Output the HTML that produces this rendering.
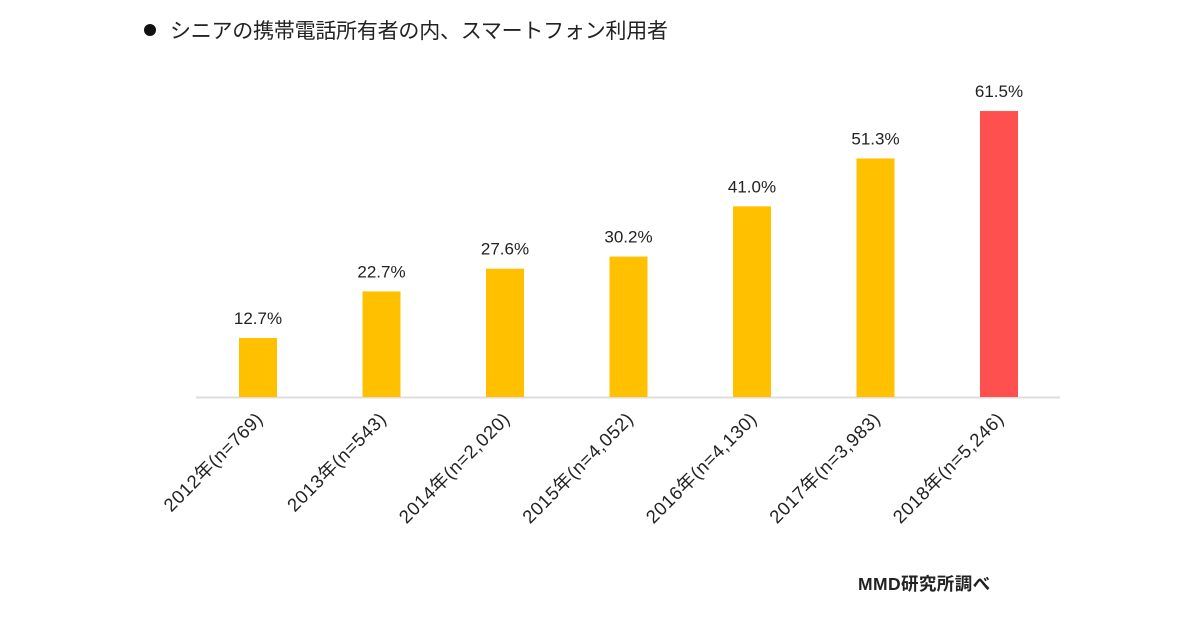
<!DOCTYPE html>
<html><head><meta charset="utf-8"><style>
body{margin:0;background:#fff;}
svg{display:block;font-family:"Liberation Sans","Noto Sans CJK JP",sans-serif;}
</style></head><body>
<svg width="1200" height="630">
<circle cx="150" cy="30" r="6" fill="#111"/>
<text x="170" y="38" font-size="21" fill="#222" textLength="498">シニアの携帯電話所有者の内、スマートフォン利用者</text>
<line x1="196" y1="397.5" x2="1060" y2="397.5" stroke="#ddd" stroke-width="2"/>
<g id="bars"></g>
<text x="858" y="590" font-size="17.5" font-weight="bold" fill="#222" letter-spacing="0.4">MMD研究所調べ</text>
</svg>
<script>
const categories=["2012年(n=769)","2013年(n=543)","2014年(n=2,020)","2015年(n=4,052)","2016年(n=4,130)","2017年(n=3,983)","2018年(n=5,246)"];
const values=[12.7,22.7,27.6,30.2,41.0,51.3,61.5];
const valueLabels=["12.7%","22.7%","27.6%","30.2%","41.0%","51.3%","61.5%"];
const NS="http://www.w3.org/2000/svg";
const g=document.getElementById('bars');
const x=i=>258+i*123.5;
const y=v=>397-v*4.65;
function mk(t,a){const e=document.createElementNS(NS,t);for(const k in a)e.setAttribute(k,a[k]);g.appendChild(e);return e;}
values.forEach((v,i)=>{
  const r=mk('rect',{x:x(i)-19,y:y(v),width:38,height:397-y(v),fill:i===values.length-1?'#ff5050':'#ffc000'});
  
  
  const t=mk('text',{x:x(i),y:y(v)-14,'font-size':17,'text-anchor':'middle',fill:'#222'});
  t.textContent=valueLabels[i];
  
  
  const c=mk('text',{x:x(i)+6,y:420,'font-size':18.5,'text-anchor':'end',fill:'#222','letter-spacing':'0.6',transform:`rotate(-45 ${x(i)+6} 420)`});
  c.textContent=categories[i];
  
  
});
</script>
</body></html>
